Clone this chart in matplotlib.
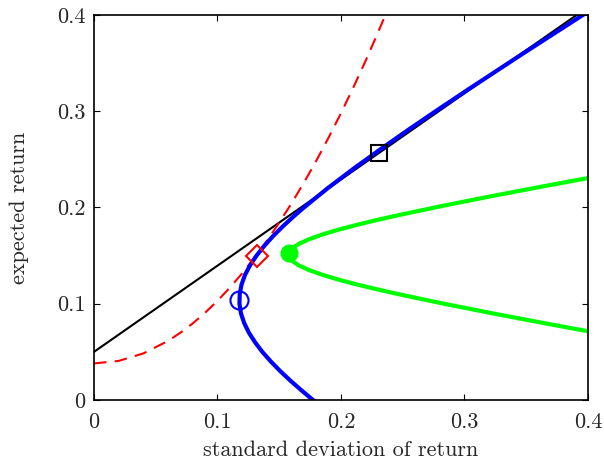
import matplotlib
matplotlib.use('Agg')
import matplotlib.pyplot as plt

plt.rcParams['font.family'] = ['cmr10', 'DejaVu Serif']
plt.rcParams['axes.formatter.use_mathtext'] = True

# efficient frontier (blue): (return, std dev)
blue_mu = [0.0, 0.01, 0.02, 0.03, 0.04, 0.05, 0.06, 0.07, 0.08, 0.09, 0.10, 0.11,
           0.12, 0.13, 0.14, 0.15, 0.16, 0.17, 0.18, 0.19, 0.20, 0.22, 0.24, 0.26,
           0.28, 0.30, 0.32, 0.36, 0.40]
blue_sd = [0.1773, 0.1680, 0.1591, 0.1508, 0.1432, 0.1363, 0.1304, 0.1254, 0.1216,
           0.1190, 0.1178, 0.1180, 0.1195, 0.1223, 0.1264, 0.1316, 0.1378, 0.1448,
           0.1526, 0.1610, 0.1700, 0.1892, 0.2098, 0.2314, 0.2537, 0.2766, 0.2999,
           0.3474, 0.3958]

# second frontier (green)
green_mu = [0.071, 0.08, 0.09, 0.10, 0.11, 0.115, 0.12, 0.125, 0.13, 0.135, 0.14,
            0.145, 0.148, 0.151, 0.154, 0.157, 0.162, 0.167, 0.172, 0.177, 0.182,
            0.187, 0.192, 0.202, 0.212, 0.222, 0.231]
green_sd = [0.4017, 0.3638, 0.3228, 0.2834, 0.2464, 0.2291, 0.2129, 0.1981, 0.1851,
            0.1741, 0.1656, 0.1600, 0.1582, 0.1576, 0.1582, 0.1600, 0.1656, 0.1741,
            0.1851, 0.1981, 0.2129, 0.2291, 0.2464, 0.2834, 0.3228, 0.3638, 0.4017]

# dashed red curve
red_sd = [0.0, 0.02, 0.04, 0.06, 0.07, 0.08, 0.09, 0.10, 0.11, 0.12, 0.13, 0.14,
          0.15, 0.16, 0.17, 0.18, 0.19, 0.20, 0.21, 0.22, 0.23, 0.24]
red_mu = [0.038, 0.0406, 0.0484, 0.0614, 0.0699, 0.0796, 0.0907, 0.103, 0.1167,
          0.1316, 0.1479, 0.1654, 0.1843, 0.2044, 0.2259, 0.2486, 0.2727, 0.298,
          0.3247, 0.3526, 0.3819, 0.4124]

# tangent line
line_sd = [0.0, 0.45]
line_mu = [0.050, 0.453]

# marked points (std dev, return)
min_var = (0.1177, 0.1039)
diamond = (0.1317, 0.1496)
tangency = (0.2308, 0.257)
green_pt = (0.1576, 0.1524)

fig = plt.figure(figsize=(6.04, 4.63), dpi=100)
ax = fig.add_axes([0.1556, 0.1361, 0.8179, 0.8315])

ax.plot(line_sd, line_mu, color='black', lw=1.5)
ax.plot(red_sd, red_mu, color='red', lw=1.5, dashes=(6, 4))
ax.plot(green_sd, green_mu, color='#00ff00', lw=3)
ax.plot(blue_sd, blue_mu, color='blue', lw=3)

ax.plot(*min_var, marker='o', ms=13, mfc='none', mec='blue', mew=1.5)
ax.plot(*diamond, marker='D', ms=11, mfc='none', mec='red', mew=1.5)
ax.plot(*tangency, marker='s', ms=11, mfc='none', mec='black', mew=1.5)
ax.plot(*green_pt, marker='o', ms=12, color='#00ff00')

ax.set_xlim(0, 0.4)
ax.set_ylim(0, 0.4)
ax.set_xticks([0, 0.1, 0.2, 0.3, 0.4])
ax.set_yticks([0, 0.1, 0.2, 0.3, 0.4])
ax.set_xticklabels(['0', '0.1', '0.2', '0.3', '0.4'])
ax.set_yticklabels(['0', '0.1', '0.2', '0.3', '0.4'])
ax.tick_params(direction='in', top=True, right=True, length=4, labelsize=16,
               labelcolor='0.15')
ax.tick_params(axis='x', pad=9)
ax.tick_params(axis='y', pad=6)
for s in ax.spines.values():
    s.set_linewidth(1.2)

ax.set_xlabel('standard deviation of return', fontsize=16, color='0.15', labelpad=6)
ax.set_ylabel('expected return', fontsize=16, color='0.15', labelpad=20)

fig.savefig('out.png', dpi=100)
